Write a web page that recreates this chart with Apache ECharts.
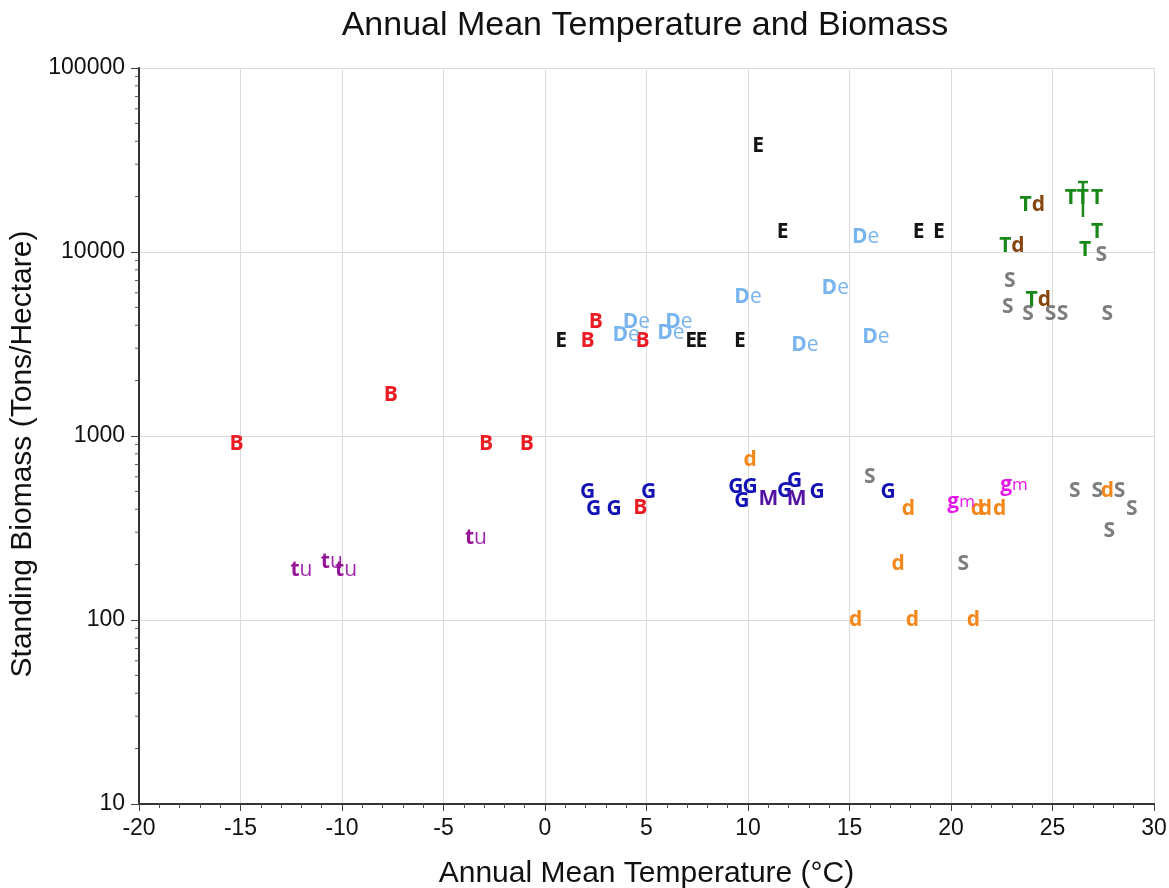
<!DOCTYPE html>
<html lang="en">
<head>
<meta charset="utf-8">
<script src="https://cdn.jsdelivr.net/npm/echarts@6/dist/echarts.min.js"></script>
<style>
  html, body { margin: 0; padding: 0; background: #fff; }
  #main { width: 1169px; height: 888px; }
</style>
</head>
<body>
<div id="main"></div>
<script type="text/javascript">
// points: [temperature °C, biomass t/ha]
var eData  = [[10.5, 37700], [11.7, 12900], [18.4, 12900], [19.4, 12900], [0.8, 3300], [7.2, 3300], [7.7, 3300], [9.6, 3300]];
var bData  = [[-15.2, 900], [-7.6, 1670], [-2.9, 900], [-0.9, 900], [2.1, 3300], [2.5, 4170], [4.8, 3300], [4.7, 406]];
var deData = [[4.5, 4170], [4.0, 3540], [6.6, 4170], [6.2, 3630], [10.0, 5690], [14.3, 6370], [12.8, 3130], [15.8, 12070], [16.3, 3450]];
var gData  = [[2.1, 496], [2.4, 401], [3.4, 401], [5.1, 496], [9.4, 528], [10.1, 528], [9.7, 443], [11.8, 502], [12.3, 569], [13.4, 496], [16.9, 496]];
var mData  = [[11.0, 454], [12.4, 454]];
var dData  = [[10.1, 741], [17.9, 401], [17.4, 201], [21.3, 401], [21.7, 401], [22.4, 401], [27.7, 502], [15.3, 100], [18.1, 100], [21.1, 100]];
var gmData = [[20.5, 438], [23.1, 541]];
var sData  = [[16.0, 598], [20.6, 201], [26.1, 502], [27.2, 502], [28.3, 502], [28.9, 401], [27.8, 305],
              [27.4, 9630], [22.9, 6960], [22.8, 5020], [23.8, 4600], [24.9, 4600], [25.5, 4600], [27.7, 4600]];
var tdData = [[24.0, 18000], [23.0, 10790], [24.3, 5490]];
var tData  = [[25.9, 19650], [26.5, 19650], [27.2, 19650], [27.2, 12850], [26.6, 10250]];
var tuData = [[-12.0, 187], [-10.5, 207], [-9.8, 187], [-3.4, 279]];
// error bar on one T point: [x, y, low, high]
var tErr   = [[26.5, 19650, 15500, 24000]];

var xTicks = [-20, 30, 5];
var yMinor = [20, 30, 40, 50, 60, 70, 80, 90, 200, 300, 400, 500, 600, 700, 800, 900,
              2000, 3000, 4000, 5000, 6000, 7000, 8000, 9000, 20000, 30000, 40000, 50000, 60000, 70000, 80000, 90000];

var chart = echarts.init(document.getElementById('main'));
var lblFont = 'Open Sans';

function mark(name, data, color, fmt, rich) {
    return {
        name: name,
        type: 'scatter',
        data: data,
        symbol: 'circle',
        symbolSize: 0.01,
        itemStyle: { color: color, opacity: 1 },
        silent: true,
        label: {
            show: true,
            position: 'inside',
            formatter: fmt,
            color: color,
            opacity: 1,
            textBorderWidth: 0,
            fontFamily: lblFont,
            fontWeight: 'bold',
            fontSize: 21,
            rich: rich
        },
        z: 5
    };
}

function st(color, weight, size) {
    return { color: color, fontWeight: weight, fontFamily: lblFont, fontSize: size || 21, textBorderWidth: 0 };
}

var option = {
    backgroundColor: '#fff',
    animation: false,
    title: {
        text: 'Annual Mean Temperature and Biomass',
        left: 640,
        textAlign: 'center',
        top: 4,
        textStyle: { fontFamily: 'Liberation Sans', fontSize: 34, fontWeight: 'normal', color: '#111' }
    },
    grid: { left: 139, right: 15, top: 68, bottom: 84, containLabel: false, outerBoundsMode: 'none' },
    xAxis: {
        type: 'value',
        min: xTicks[0],
        max: xTicks[1],
        interval: xTicks[2],
        name: 'Annual Mean Temperature (°C)',
        nameLocation: 'middle',
        nameGap: 55,
        nameTextStyle: { fontFamily: 'Liberation Sans', fontSize: 30, color: '#111' },
        axisLine: { onZero: false, lineStyle: { color: '#333', width: 2 } },
        axisTick: { length: 7, lineStyle: { color: '#444' } },
        minorTick: { show: true, splitNumber: 5, length: 4, lineStyle: { color: '#555' } },
        axisLabel: { fontFamily: 'Liberation Sans', fontSize: 23, color: '#111', margin: 13 },
        splitLine: { lineStyle: { color: '#dcdcdc' } }
    },
    yAxis: {
        type: 'log',
        logBase: 10,
        min: 10,
        max: 100000,
        name: 'Standing Biomass (Tons/Hectare)',
        nameLocation: 'middle',
        nameGap: 93,
        nameTextStyle: { fontFamily: 'Liberation Sans', fontSize: 30, color: '#111', padding: [0, 36, 0, 0] },
        axisLine: { show: true, onZero: false, lineStyle: { color: '#333', width: 2 } },
        axisTick: { show: true, length: 8, lineStyle: { color: '#444' } },
        axisLabel: {
            fontFamily: 'Liberation Sans', fontSize: 23, color: '#111', margin: 14,
            formatter: function (v) { return String(Math.round(v)); }
        },
        splitLine: { lineStyle: { color: '#dcdcdc' } }
    },
    series: [
        mark('E', eData, '#141414', '{a|E}', { a: st('#141414', 'bold') }),
        mark('B', bData, '#ec1c24', '{a|B}', { a: st('#ec1c24', 'bold') }),
        mark('De', deData, '#78b4ee', '{a|D}{b|e}', { a: st('#78b4ee', 'bold'), b: st('#78b4ee', 'normal') }),
        mark('G', gData, '#1212b4', '{a|G}', { a: st('#1212b4', 'bold') }),
        mark('M', mData, '#5312a4', '{a|M}', { a: st('#5312a4', 'bold') }),
        mark('d', dData, '#f5861a', '{a|d}', { a: st('#f5861a', 'bold') }),
        mark('gm', gmData, '#e816e8', '{a|g}{b|m}', { a: st('#e816e8', 'bold'), b: st('#e816e8', 'normal', 17) }),
        mark('S', sData, '#7d7d7d', '{a|S}', { a: st('#7d7d7d', 'bold') }),
        mark('Td', tdData, '#188818', '{a|T}{b|d}', { a: st('#188818', 'bold'), b: st('#86460f', 'bold') }),
        mark('T', tData, '#188818', '{a|T}', { a: st('#188818', 'bold') }),
        mark('tu', tuData, '#961496', '{a|t}{b|u}', { a: st('#961496', 'bold'), b: st('#a02aae', 'normal') }),
        {
            name: 'T error',
            type: 'custom',
            silent: true,
            clip: false,
            z: 6,
            data: tErr,
            renderItem: function (params, api) {
                var x = api.value(0);
                var top = api.coord([x, api.value(3)]);
                var bot = api.coord([x, api.value(2)]);
                var s = { stroke: '#188818', lineWidth: 2.5 };
                return {
                    type: 'group',
                    children: [
                        { type: 'line', shape: { x1: top[0], y1: top[1], x2: bot[0], y2: bot[1] }, style: s },
                        { type: 'line', shape: { x1: top[0] - 5, y1: top[1], x2: top[0] + 5, y2: top[1] }, style: s }
                    ]
                };
            }
        },
        {
            name: 'minor y ticks',
            type: 'custom',
            silent: true,
            clip: false,
            data: yMinor.map(function (v) { return [xTicks[0], v]; }),
            renderItem: function (params, api) {
                var p = api.coord([api.value(0), api.value(1)]);
                return {
                    type: 'line',
                    shape: { x1: p[0] - 4, y1: p[1], x2: p[0], y2: p[1] },
                    style: { stroke: '#555', lineWidth: 1 }
                };
            }
        }
    ]
};
chart.setOption(option);
</script>
</body>
</html>
